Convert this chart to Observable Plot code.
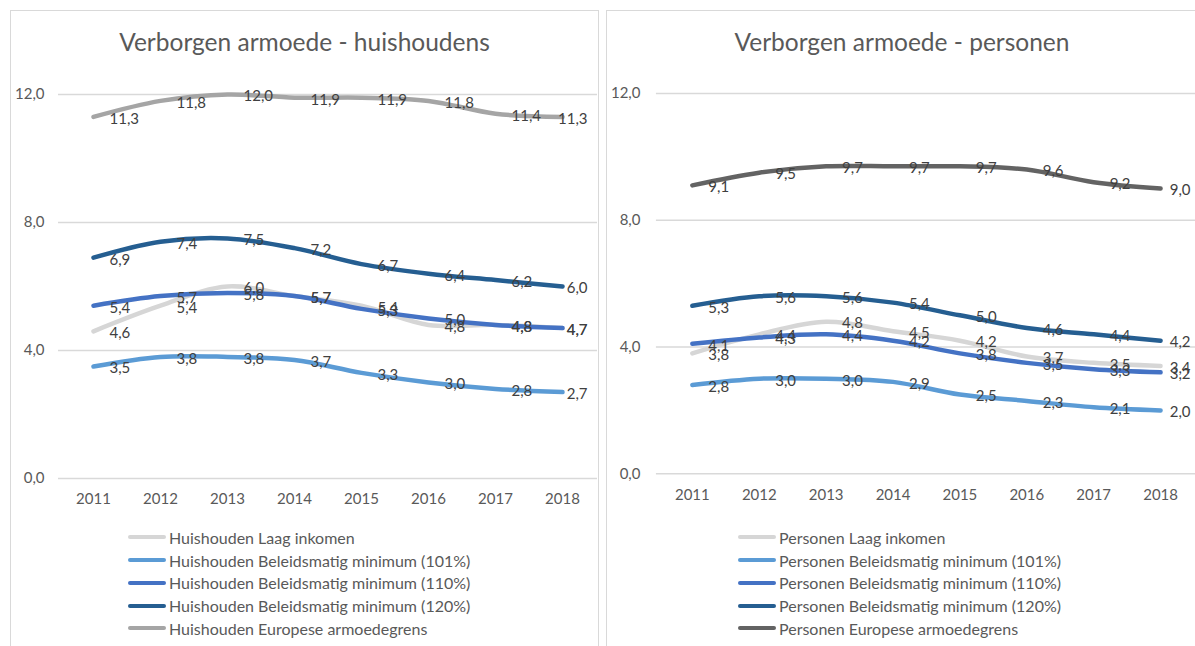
<!DOCTYPE html>
<html>
<head>
<meta charset="utf-8">
<script src="https://cdn.jsdelivr.net/npm/d3@7"></script>
<script src="https://cdn.jsdelivr.net/npm/@observablehq/plot@0.6"></script>
<style>
  html, body { margin: 0; padding: 0; background: #ffffff; }
  body { width: 1195px; height: 646px; overflow: hidden; position: relative; font-family: Lato, "Open Sans", sans-serif; }
  .panel { position: absolute; top: 10px; height: 660px; border: 1px solid #d9d9d9; border-bottom: none; box-sizing: border-box; }
  .title { position: absolute; top: 27px; font-size: 24.5px; color: #595959; text-align: center; white-space: nowrap; line-height: 30px; }
  .chart { position: absolute; top: 60px; }
  .legend { position: absolute; top: 526px; }
  .legend .item { display: flex; align-items: center; height: 22.75px; font-size: 16px; color: #595959; white-space: nowrap; }
  .legend .sw { width: 38px; height: 4px; border-radius: 2px; margin-right: 3px; }
</style>
</head>
<body>
<div class="panel" style="left:10px;width:589px;"></div>
<div class="panel" style="left:606px;width:600px;"></div>
<div class="title" style="left:10px;width:589px;">Verborgen armoede - huishoudens</div>
<div class="title" style="left:606px;width:592px;">Verborgen armoede - personen</div>
<div id="chartL" class="chart" style="left:10px;"></div>
<div id="chartR" class="chart" style="left:606px;"></div>
<div id="legendL" class="legend" style="left:128px;"></div>
<div id="legendR" class="legend" style="left:738px;"></div>
<script>
// ---- data ----
const years = [2011, 2012, 2013, 2014, 2015, 2016, 2017, 2018];
const yTicks = [0, 4, 8, 12];
const seriesKeys = ["Laag inkomen", "Beleidsmatig minimum (101%)", "Beleidsmatig minimum (110%)", "Beleidsmatig minimum (120%)", "Europese armoedegrens"];

const huisLaag = [4.6, 5.4, 6.0, 5.7, 5.4, 4.8, 4.8, 4.7];
const huis101  = [3.5, 3.8, 3.8, 3.7, 3.3, 3.0, 2.8, 2.7];
const huis110  = [5.4, 5.7, 5.8, 5.7, 5.3, 5.0, 4.8, 4.7];
const huis120  = [6.9, 7.4, 7.5, 7.2, 6.7, 6.4, 6.2, 6.0];
const huisEU   = [11.3, 11.8, 12.0, 11.9, 11.9, 11.8, 11.4, 11.3];

const persLaag = [3.8, 4.4, 4.8, 4.5, 4.2, 3.7, 3.5, 3.4];
const pers101  = [2.8, 3.0, 3.0, 2.9, 2.5, 2.3, 2.1, 2.0];
const pers110  = [4.1, 4.3, 4.4, 4.2, 3.8, 3.5, 3.3, 3.2];
const pers120  = [5.3, 5.6, 5.6, 5.4, 5.0, 4.6, 4.4, 4.2];
const persEU   = [9.1, 9.5, 9.7, 9.7, 9.7, 9.6, 9.2, 9.0];

const huisColors = ["#d6d6d6", "#5b9bd5", "#4472c4", "#255e91", "#a5a5a5"];
const persColors = ["#d6d6d6", "#5b9bd5", "#4472c4", "#255e91", "#636363"];

const fmt = v => v.toFixed(1).replace(".", ",");

function build(prefix, valueLists) {
  const names = seriesKeys.map(k => prefix + " " + k);
  const rows = [];
  valueLists.forEach((vals, i) => {
    vals.forEach((v, j) => rows.push({series: names[i], year: years[j], value: v}));
  });
  return {names, rows};
}

function makeChart(cfg) {
  const {names, rows} = build(cfg.prefix, cfg.values);
  const last = years[years.length - 1];
  return Plot.plot({
    width: cfg.width,
    height: 460,
    marginLeft: cfg.marginLeft,
    marginRight: cfg.marginRight,
    marginTop: cfg.marginTop,
    marginBottom: cfg.marginBottom,
    style: {fontFamily: "Lato, 'Open Sans', sans-serif", fontSize: "15px", color: "#595959", background: "transparent"},
    x: {type: "point", domain: years, padding: 0.5, label: null},
    y: {domain: [0, 12], label: null},
    color: {domain: names, range: cfg.colors},
    marks: [
      Plot.gridY(yTicks, {stroke: "#d9d9d9", strokeOpacity: 1, strokeWidth: 1.4}),
      Plot.axisY(yTicks, {tickSize: 0, tickPadding: cfg.yPad, tickFormat: fmt, fill: "#595959", label: null}),
      Plot.axisX({tickSize: 0, tickPadding: cfg.xPad, tickFormat: d => String(d), fill: "#595959", label: null}),
      Plot.line(rows, {x: "year", y: "value", z: "series", stroke: "series", strokeWidth: 4.5, curve: "catmull-rom", strokeLinecap: "round"}),
      Plot.text(rows.filter(d => d.year !== last), {x: "year", y: "value", text: d => fmt(d.value), textAnchor: "start", dx: 16, dy: 2, fill: "#404040", fontSize: 15}),
      Plot.text(rows.filter(d => d.year === last), {x: "year", y: "value", text: d => fmt(d.value), textAnchor: "end", dx: cfg.lastDx, dy: 2, fill: "#404040", fontSize: 15})
    ]
  });
}

function makeLegend(el, prefix, colors) {
  seriesKeys.forEach((k, i) => {
    const item = document.createElement("div");
    item.className = "item";
    const sw = document.createElement("div");
    sw.className = "sw";
    sw.style.background = colors[i];
    const t = document.createElement("span");
    t.textContent = prefix + " " + k;
    item.appendChild(sw);
    item.appendChild(t);
    el.appendChild(item);
  });
}

document.getElementById("chartL").appendChild(makeChart({
  prefix: "Huishouden",
  values: [huisLaag, huis101, huis110, huis120, huisEU],
  colors: huisColors,
  width: 588, marginLeft: 48, marginRight: 1, marginTop: 34, marginBottom: 42,
  yPad: 14, xPad: 15, lastDx: 25
}));
document.getElementById("chartR").appendChild(makeChart({
  prefix: "Personen",
  values: [persLaag, pers101, pers110, pers120, persEU],
  colors: persColors,
  width: 590, marginLeft: 50, marginRight: 0, marginTop: 33, marginBottom: 46,
  yPad: 16, xPad: 16, lastDx: 30
}));
makeLegend(document.getElementById("legendL"), "Huishouden", huisColors);
makeLegend(document.getElementById("legendR"), "Personen", persColors);
</script>
</body>
</html>
